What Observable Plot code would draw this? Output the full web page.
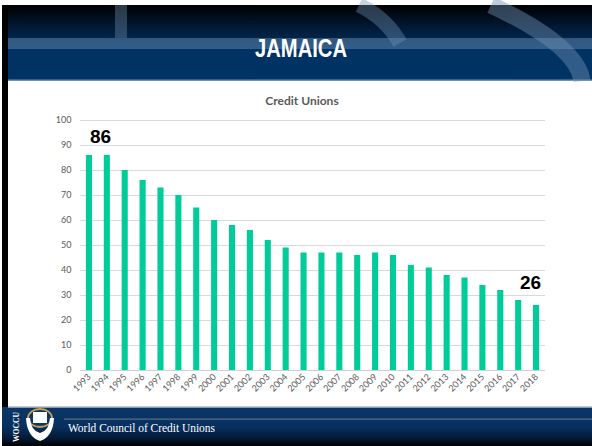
<!DOCTYPE html>
<html>
<head>
<meta charset="utf-8">
<script src="https://cdn.jsdelivr.net/npm/d3@7"></script>
<script src="https://cdn.jsdelivr.net/npm/@observablehq/plot@0.6"></script>
<style>
  html, body { margin: 0; padding: 0; background: #fff; }
  #page { position: relative; width: 592px; height: 446px; overflow: hidden; background: #fff; }
  #bg { position: absolute; left: 0; top: 0; }
  #chartTitle { position: absolute; left: 8px; width: 588px; top: 93px; text-align: center;
    font-family: Lato, "Open Sans", sans-serif; font-weight: bold; font-size: 12px; color: #595959; }
  #plot { position: absolute; left: 0; top: 82px; }
</style>
</head>
<body>
<div id="page">
  <svg id="bg" width="592" height="446">
    <defs>
      <linearGradient id="hg" x1="0" y1="0" x2="0" y2="1">
        <stop offset="0" stop-color="#000000"/>
        <stop offset="0.3" stop-color="#021a36"/>
        <stop offset="0.6" stop-color="#003263"/>
        <stop offset="1" stop-color="#003366"/>
      </linearGradient>
      <linearGradient id="fg" x1="0" y1="0" x2="0" y2="1">
        <stop offset="0" stop-color="#0b3767"/>
        <stop offset="0.5" stop-color="#073060"/>
        <stop offset="0.8" stop-color="#041a36"/>
        <stop offset="1" stop-color="#000000"/>
      </linearGradient>
    </defs>
    <rect x="2" y="5" width="6" height="441" fill="#000"/>
    <rect x="8" y="5" width="584" height="76" fill="url(#hg)"/>
    <rect x="115" y="5" width="12" height="33" fill="rgb(110,140,170)" opacity="0.4"/>
    <rect x="8" y="38" width="584" height="11" fill="rgb(110,150,190)" opacity="0.45"/>
    <path d="M359,5 Q386,18 400,43" stroke="rgb(110,145,180)" stroke-width="15" fill="none" opacity="0.4"/>
    <path d="M491,5 Q577.5,45.5 582,81" stroke="rgb(110,145,180)" stroke-width="17" fill="none" opacity="0.45"/>
    <rect x="8" y="79.5" width="584" height="1.5" fill="#7390b5"/>
    <text x="301" y="57" text-anchor="middle" fill="#fff" font-family="Liberation Sans, Arial, sans-serif"
      font-weight="bold" font-size="25" textLength="92" lengthAdjust="spacingAndGlyphs">JAMAICA</text>

    <rect x="2" y="407" width="590" height="39" fill="url(#fg)"/>
    <rect x="8" y="406.5" width="584" height="1.5" fill="#8a9bb0"/>
    <rect x="64" y="418.5" width="528" height="1.2" fill="#5f6f82"/>
    <text x="19" y="442" transform="rotate(-90 19 442)" fill="#fff" font-size="7.5" font-weight="bold"
      font-family="Liberation Serif, serif" textLength="30" lengthAdjust="spacingAndGlyphs">WOCCU</text>
    <ellipse cx="40" cy="418" rx="12" ry="9" fill="#0b3767" stroke="#c9a44c" stroke-width="1.8"/>
    <rect x="33" y="412" width="14" height="11" fill="#fff"/>
    <path d="M26,418 Q27,437 40,441 Q53,437 54,418 L50,418 Q49,431 40,433 Q31,431 30,418 Z" fill="#fff"/>
    <text x="68" y="432" fill="#fff" font-family="Liberation Serif, serif" font-size="12.5"
      textLength="147" lengthAdjust="spacingAndGlyphs">World Council of Credit Unions</text>
  </svg>
  <div id="plot"></div>
  <div id="chartTitle">Credit Unions</div>
</div>
<script>
const years = ["1993","1994","1995","1996","1997","1998","1999","2000","2001","2002","2003","2004","2005",
               "2006","2007","2008","2009","2010","2011","2012","2013","2014","2015","2016","2017","2018"];
const creditUnions = [86,86,80,76,73,70,65,60,58,56,52,49,47,47,47,46,47,46,42,41,38,37,34,32,28,26];
const yTicks = [0,10,20,30,40,50,60,70,80,90,100];
const labelYears = ["1993","2018"];
const labelValues = [86,26];

const data = years.map((y, i) => ({year: y, value: creditUnions[i]}));
const labels = labelYears.map((y, i) => ({year: y, value: labelValues[i]}));

const chart = Plot.plot({
  width: 592,
  height: 323,
  marginLeft: 80,
  marginRight: 47,
  marginTop: 38,
  marginBottom: 35,
  style: {fontFamily: "Lato, 'Open Sans', sans-serif", background: "transparent"},
  x: {type: "band", domain: years, paddingInner: 0.66, paddingOuter: 0.33, round: false, label: null},
  y: {domain: [0, 100], label: null},
  marks: [
    Plot.gridY(yTicks, {stroke: "#d9d9d9", strokeOpacity: 1}),
    Plot.ruleY([0], {stroke: "#d0d0d0"}),
    Plot.barY(data, {x: "year", y: "value", fill: "#00cc99"}),
    Plot.text(labels.slice(0,1), {x: "year", y: "value", text: d => String(d.value), dx: 11, dy: -19,
      fontSize: 19, fontWeight: "bold", fill: "#000", fontFamily: "Liberation Sans, Arial, sans-serif"}),
    Plot.text(labels.slice(1), {x: "year", y: "value", text: d => String(d.value), dx: -6, dy: -23,
      fontSize: 19, fontWeight: "bold", fill: "#000", fontFamily: "Liberation Sans, Arial, sans-serif"}),
    Plot.axisY(yTicks, {tickSize: 0, tickPadding: 9, fontSize: 9, fill: "#595959"}),
    Plot.axisX({tickSize: 0, tickPadding: 5, tickRotate: -45, fontSize: 9, fill: "#595959"})
  ]
});
document.getElementById("plot").appendChild(chart);
</script>
</body>
</html>
